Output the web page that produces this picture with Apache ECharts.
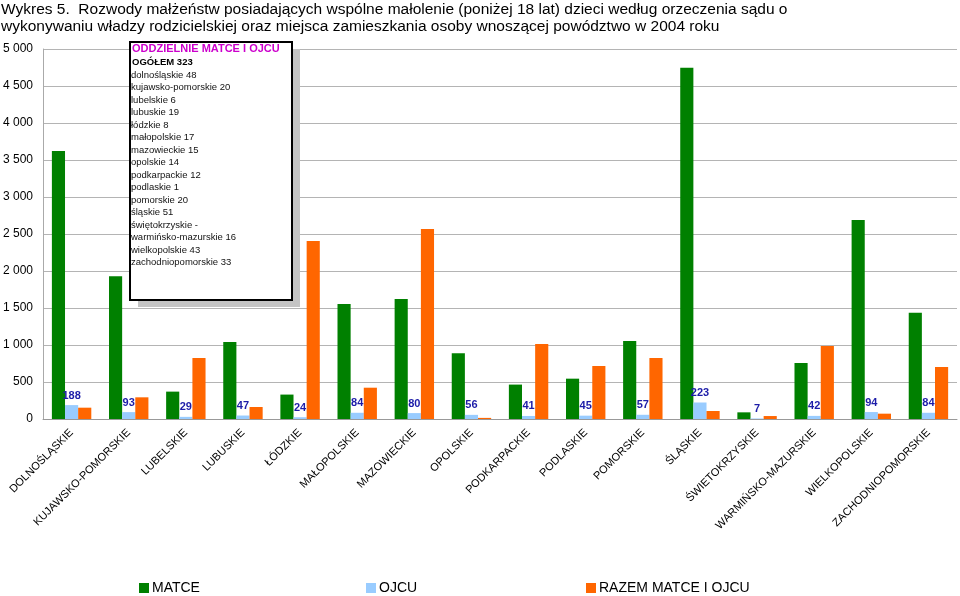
<!DOCTYPE html>
<html><head><meta charset="utf-8">
<script src="https://cdn.jsdelivr.net/npm/echarts@6/dist/echarts.min.js"></script>
<style>html,body{margin:0;padding:0;background:#fff}#c{width:960px;height:596px}</style>
</head><body><div id="c"></div>
<script>
const categories = ['DOLNOŚLĄSKIE','KUJAWSKO-POMORSKIE','LUBELSKIE','LUBUSKIE','ŁÓDZKIE','MAŁOPOLSKIE','MAZOWIECKIE','OPOLSKIE','PODKARPACKIE','PODLASKIE','POMORSKIE','ŚLĄSKIE','ŚWIETOKRZYSKIE','WARMIŃSKO-MAZURSKIE','WIELKOPOLSKIE','ZACHODNIOPOMORSKIE'];
const matce = [3620,1930,370,1040,330,1555,1620,890,465,545,1055,4745,90,757,2690,1435];
const ojcu = [188,93,29,47,24,84,80,56,41,45,57,223,7,42,94,84];
const razem = [153,293,824,162,2405,423,2568,15,1014,716,824,108,40,987,72,703];
const yTicks = [0,500,1000,1500,2000,2500,3000,3500,4000,4500,5000];
const boxTitle = 'ODDZIELNIE MATCE I OJCU';
const boxTotal = 'OGÓŁEM 323';
const boxLines = ['dolnośląskie 48','kujawsko-pomorskie 20','lubelskie 6','lubuskie 19','łódzkie 8','małopolskie 17','mazowieckie 15','opolskie 14','podkarpackie 12','podlaskie 1','pomorskie 20','śląskie 51','świętokrzyskie -','warmińsko-mazurskie 16','wielkopolskie 43','zachodniopomorskie 33'];
const titleText = 'Wykres 5.  Rozwody małżeństw posiadających wspólne małolenie (poniżej 18 lat) dzieci według orzeczenia sądu o\nwykonywaniu władzy rodzicielskiej oraz miejsca zamieszkania osoby wnoszącej powództwo w 2004 roku';

const FF = "'Liberation Sans', Arial, sans-serif";
const chart = echarts.init(document.getElementById('c'), null, {renderer:'canvas'});
const fmt = v => String(v).replace(/\B(?=(\d{3})+(?!\d))/g, ' ');
const leg = (name, left) => ({
  data:[name], left:left, top:576, itemWidth:10, itemHeight:10, itemGap:0, icon:'rect',
  textStyle:{fontFamily:FF, fontSize:14, color:'#000', padding:[0,0,0,-2]}
});
chart.setOption({
  animation:false,
  textStyle:{fontFamily:FF},
  title:{text:titleText, left:-4, top:-4, textStyle:{fontFamily:FF, fontSize:15.5, fontWeight:'normal', color:'#000', lineHeight:17}},
  legend:[leg('MATCE',134), leg('OJCU',361), leg('RAZEM MATCE I OJCU',581)],
  grid:{left:41, right:3, top:49, bottom:177},
  xAxis:{type:'category', data:categories,
    axisLine:{lineStyle:{color:'#999'}},
    axisTick:{length:4, lineStyle:{color:'#999'}},
    axisLabel:{interval:0, rotate:45, fontSize:11, color:'#000', margin:12, fontFamily:FF}},
  yAxis:{type:'value', min:yTicks[0], max:yTicks[yTicks.length-1], interval:500,
    axisLine:{show:true, lineStyle:{color:'#aaa'}},
    axisTick:{show:false},
    splitLine:{lineStyle:{color:'#b4b4b4'}},
    axisLabel:{formatter:fmt, fontSize:12, color:'#000', margin:10, fontFamily:FF}},
  series:[
    {name:'MATCE', type:'bar', data:matce, itemStyle:{color:'#008000'}, barGap:'0%', barCategoryGap:'31%'},
    {name:'OJCU', type:'bar', data:ojcu, itemStyle:{color:'#99ccff'}, barGap:'0%', barCategoryGap:'31%',
      label:{show:true, position:'top', distance:4, color:'#1c1ca8', fontWeight:'bold', fontSize:11, fontFamily:FF}},
    {name:'RAZEM MATCE I OJCU', type:'bar', data:razem, itemStyle:{color:'#ff6600'}, barGap:'0%', barCategoryGap:'31%'}
  ],
  graphic:[
    {type:'rect', shape:{x:138, y:49, width:162, height:258}, style:{fill:'#c4c4c4'}, z:10},
    {type:'rect', shape:{x:130, y:42, width:162, height:258}, style:{fill:'#fff', stroke:'#000', lineWidth:2}, z:11},
    {type:'text', x:132, y:43, z:12, style:{text:boxTitle, fill:'#cc00cc', font:"bold 11px 'Liberation Sans', Arial"}},
    {type:'text', x:132, y:57, z:12, style:{text:boxTotal, fill:'#000', font:"bold 9.5px 'Liberation Sans', Arial"}},
    {type:'text', x:131, y:69, z:12, style:{text:boxLines.join('\n'), fill:'#111', font:"9.5px 'Liberation Sans', Arial", lineHeight:12.5}}
  ]
});
</script></body></html>
